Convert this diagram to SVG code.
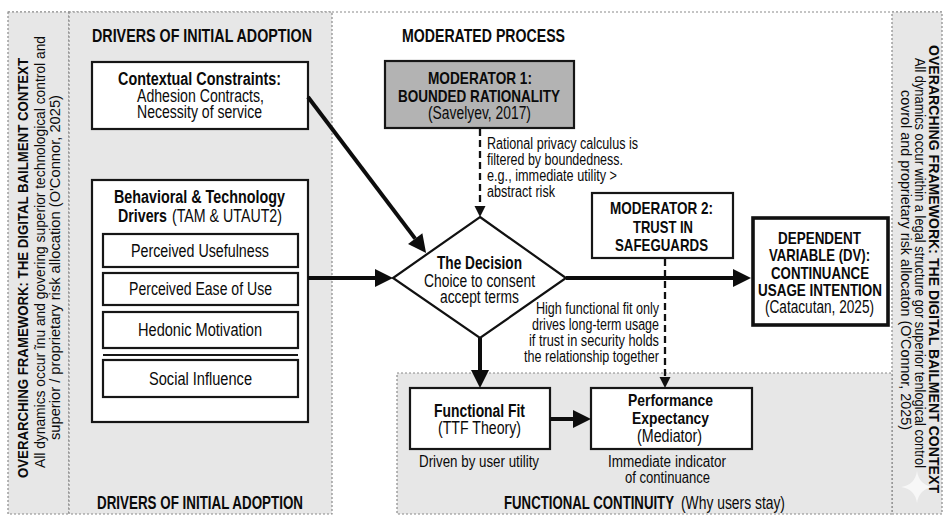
<svg xmlns="http://www.w3.org/2000/svg" width="944" height="516" viewBox="0 0 944 516">
<defs>
<style>
text{font-family:"Liberation Sans Narrow","Liberation Sans",Arial,sans-serif;fill:#0a0a0a;}
.b{font-weight:bold;}
.h{font-size:18px;font-weight:bold;}
.t{font-size:17.5px;}
.s{font-size:16px;}
.m{font-size:17px;font-weight:bold;}
.v{font-size:14px;}
.vb{font-size:15px;font-weight:bold;}
.panel{fill:#e7e7e7;stroke:#8a8a8a;stroke-width:1.2;stroke-dasharray:2 2;}
.box{fill:#fff;stroke:#161616;stroke-width:2.2;}
.arr{stroke:#0d0d0d;stroke-width:4;fill:none;}
.dash{stroke:#111;stroke-width:2.3;fill:none;stroke-dasharray:7 4;}
</style>
<marker id="ah" markerUnits="userSpaceOnUse" markerWidth="19" markerHeight="19" refX="0" refY="9" orient="auto" viewBox="0 0 19 19" overflow="visible">
<path d="M0,0 L18,9 L0,18 Z" fill="#0d0d0d"/>
</marker>
<marker id="ahs" markerUnits="userSpaceOnUse" markerWidth="12" markerHeight="12" refX="0" refY="5.5" orient="auto" viewBox="0 0 12 12" overflow="visible">
<path d="M0,0 L11,5.5 L0,11 Z" fill="#111"/>
</marker>
</defs>
<rect x="0" y="0" width="944" height="516" fill="#fff"/>

<g id="frame">
<line x1="8" y1="12" x2="942" y2="12" stroke="#8a8a8a" stroke-width="1.2" stroke-dasharray="2 2"/>
<rect id="left-strip" class="panel" x="8" y="12" width="61" height="502"/>
<rect id="left-panel" class="panel" x="69" y="12" width="263" height="502"/>
<rect id="right-strip" class="panel" x="892" y="12" width="50" height="502"/>
<rect id="bottom-panel" class="panel" x="397" y="373" width="495" height="141"/>
</g>

<g id="left-context">
<text class="vb" transform="translate(28,478) rotate(-90)" textLength="420" lengthAdjust="spacingAndGlyphs">OVERARCHING FRAMEWORK: THE DIGITAL BAILMENT CONTEXT</text>
<text class="v" transform="translate(45,468) rotate(-90)" textLength="432" lengthAdjust="spacingAndGlyphs">All dynamics occur ĩnu and govering superior technological control and</text>
<text class="v" transform="translate(60,440) rotate(-90)" textLength="345" lengthAdjust="spacingAndGlyphs">superior / proprietary risk allocation (O'Connor, 2025)</text>
</g>

<g id="right-context">
<text class="vb" style="font-size:14.5px" transform="translate(929,45) rotate(90)" textLength="448" lengthAdjust="spacingAndGlyphs">OVERARCHING FRAMEWORK: THE DIGITAL BAILMENT CONTEXT</text>
<text class="v" transform="translate(915,58) rotate(90)" textLength="410" lengthAdjust="spacingAndGlyphs">All dynamics occur within a legal structure gor superior tenlogical control</text>
<text class="v" transform="translate(901,90) rotate(90)" textLength="340" lengthAdjust="spacingAndGlyphs">covrol and proprietary risk allocaton (O'Connor, 2025)</text>
</g>

<g id="section-labels">
<text class="h" x="92" y="42" textLength="220" lengthAdjust="spacingAndGlyphs">DRIVERS OF INITIAL ADOPTION</text>
<text class="h" x="97" y="509" textLength="206" lengthAdjust="spacingAndGlyphs">DRIVERS OF INITIAL ADOPTION</text>
<text class="h" x="402" y="42" textLength="163" lengthAdjust="spacingAndGlyphs">MODERATED PROCESS</text>
<text class="h" x="504" y="509" textLength="170" lengthAdjust="spacingAndGlyphs">FUNCTIONAL CONTINUITY</text>
<text class="t" x="681" y="509" textLength="104" lengthAdjust="spacingAndGlyphs">(Why users stay)</text>
</g>

<g id="contextual-constraints">
<rect class="box" x="92" y="62" width="216" height="67"/>
<text class="t b" x="118" y="85" textLength="163" lengthAdjust="spacingAndGlyphs">Contextual Constraints:</text>
<text class="t" x="137" y="102" textLength="127" lengthAdjust="spacingAndGlyphs">Adhesion Contracts,</text>
<text class="t" x="137" y="118" textLength="125" lengthAdjust="spacingAndGlyphs">Necessity of service</text>
</g>

<g id="behavioral-drivers">
<rect class="box" x="92" y="180" width="216" height="242"/>
<text class="t b" x="114" y="203" textLength="171" lengthAdjust="spacingAndGlyphs">Behavioral &amp; Technology</text>
<text class="t b" x="118" y="222" textLength="49" lengthAdjust="spacingAndGlyphs">Drivers</text>
<text class="t" x="172" y="222" textLength="110" lengthAdjust="spacingAndGlyphs">(TAM &amp; UTAUT2)</text>
</g>

<g id="perceived-usefulness">
<rect class="box" x="103" y="234" width="195" height="33"/>
<text class="t" x="131" y="257" textLength="138" lengthAdjust="spacingAndGlyphs">Perceived Usefulness</text>
</g>
<g id="perceived-ease">
<rect class="box" x="103" y="273" width="195" height="32"/>
<text class="t" x="129" y="295" textLength="143" lengthAdjust="spacingAndGlyphs">Perceived Ease of Use</text>
</g>
<g id="hedonic-motivation">
<rect class="box" x="103" y="312" width="195" height="36"/>
<text class="t" x="138" y="336" textLength="124" lengthAdjust="spacingAndGlyphs">Hedonic Motivation</text>
</g>
<g id="social-influence">
<line x1="103" y1="355" x2="298" y2="355" stroke="#161616" stroke-width="2.2"/>
<rect class="box" x="103" y="360" width="195" height="37"/>
<text class="t" x="149" y="385" textLength="103" lengthAdjust="spacingAndGlyphs">Social Influence</text>
</g>

<g id="moderator-1">
<rect x="385" y="61" width="189" height="67" fill="#b3b3b3" stroke="#161616" stroke-width="2.2"/>
<text class="m" x="428" y="84" textLength="104" lengthAdjust="spacingAndGlyphs">MODERATOR 1:</text>
<text class="m" x="398" y="102" textLength="162" lengthAdjust="spacingAndGlyphs">BOUNDED RATIONALITY</text>
<text class="t" x="428" y="119" textLength="103" lengthAdjust="spacingAndGlyphs">(Savelyev, 2017)</text>
</g>

<g id="moderator-1-note">
<text class="s" x="487" y="149" textLength="151" lengthAdjust="spacingAndGlyphs">Rational privacy calculus is</text>
<text class="s" x="487" y="165" textLength="136" lengthAdjust="spacingAndGlyphs">filtered by boundedness.</text>
<text class="s" x="487" y="181" textLength="130" lengthAdjust="spacingAndGlyphs">e.g., immediate utility &gt;</text>
<text class="s" x="487" y="197" textLength="68" lengthAdjust="spacingAndGlyphs">abstract risk</text>
</g>

<g id="decision">
<polygon points="480,217 566,278 480,338 393,278" fill="#fff" stroke="#111" stroke-width="2.2"/>
<text class="t b" x="437" y="269" textLength="85" lengthAdjust="spacingAndGlyphs">The Decision</text>
<text class="t" x="424" y="287" textLength="111" lengthAdjust="spacingAndGlyphs">Choice to consent</text>
<text class="t" x="440" y="303" textLength="79" lengthAdjust="spacingAndGlyphs">accept terms</text>
</g>

<g id="moderator-2">
<rect class="box" x="592" y="193" width="141" height="65"/>
<text class="m" x="610" y="214" textLength="103" lengthAdjust="spacingAndGlyphs">MODERATOR 2:</text>
<text class="m" x="633" y="233" textLength="60" lengthAdjust="spacingAndGlyphs">TRUST IN</text>
<text class="m" x="615" y="251" textLength="93" lengthAdjust="spacingAndGlyphs">SAFEGUARDS</text>
</g>

<g id="moderator-2-note">
<text class="s" x="659" y="314" text-anchor="end" textLength="123" lengthAdjust="spacingAndGlyphs">High functional fit only</text>
<text class="s" x="659" y="330" text-anchor="end" textLength="127" lengthAdjust="spacingAndGlyphs">drives long-term usage</text>
<text class="s" x="659" y="346" text-anchor="end" textLength="130" lengthAdjust="spacingAndGlyphs">if trust in security holds</text>
<text class="s" x="659" y="362" text-anchor="end" textLength="135" lengthAdjust="spacingAndGlyphs">the relationship together</text>
</g>

<g id="dependent-variable">
<rect x="753" y="218" width="135" height="107" fill="#fff" stroke="#111" stroke-width="3.6"/>
<text class="m" x="778" y="244" textLength="83" lengthAdjust="spacingAndGlyphs">DEPENDENT</text>
<text class="m" x="769" y="261" textLength="101" lengthAdjust="spacingAndGlyphs">VARIABLE (DV):</text>
<text class="m" x="771" y="279" textLength="98" lengthAdjust="spacingAndGlyphs">CONTINUANCE</text>
<text class="m" x="758" y="296" textLength="124" lengthAdjust="spacingAndGlyphs">USAGE INTENTION</text>
<text class="t" x="765" y="313" textLength="109" lengthAdjust="spacingAndGlyphs">(Catacutan, 2025)</text>
</g>

<g id="functional-fit">
<rect class="box" x="410" y="388" width="140" height="61"/>
<text class="t b" x="434" y="417" textLength="91" lengthAdjust="spacingAndGlyphs">Functional Fit</text>
<text class="t" x="438" y="434" textLength="83" lengthAdjust="spacingAndGlyphs">(TTF Theory)</text>
<text class="s" x="419" y="467" textLength="120" lengthAdjust="spacingAndGlyphs">Driven by user utility</text>
</g>

<g id="performance-expectancy">
<rect class="box" x="591" y="388" width="161" height="61"/>
<text class="m" x="628" y="406" textLength="85" lengthAdjust="spacingAndGlyphs">Performance</text>
<text class="m" x="632" y="424" textLength="77" lengthAdjust="spacingAndGlyphs">Expectancy</text>
<text class="t" x="637" y="442" textLength="65" lengthAdjust="spacingAndGlyphs">(Mediator)</text>
<text class="s" x="608" y="467" textLength="118" lengthAdjust="spacingAndGlyphs">Immediate indicator</text>
<text class="s" x="625" y="483" textLength="85" lengthAdjust="spacingAndGlyphs">of continuance</text>
</g>

<g id="connectors">
<line class="arr" x1="308" y1="97" x2="415.2" y2="238.6" marker-end="url(#ah)"/>
<line class="arr" x1="308" y1="278" x2="375" y2="278" marker-end="url(#ah)"/>
<line class="dash" x1="480" y1="129" x2="480" y2="206" marker-end="url(#ahs)"/>
<line class="arr" x1="566" y1="278" x2="733" y2="278" marker-end="url(#ah)"/>
<line class="arr" x1="480" y1="338" x2="480" y2="370" marker-end="url(#ah)"/>
<line class="arr" x1="550" y1="419" x2="573" y2="419" marker-end="url(#ah)"/>
<line class="dash" x1="665" y1="259" x2="665" y2="377" marker-end="url(#ahs)"/>
</g>

<path d="M917,471 Q919,485 933,487 Q919,489 917,503 Q915,489 901,487 Q915,485 917,471 Z" fill="#f7f7f7"/>
</svg>
